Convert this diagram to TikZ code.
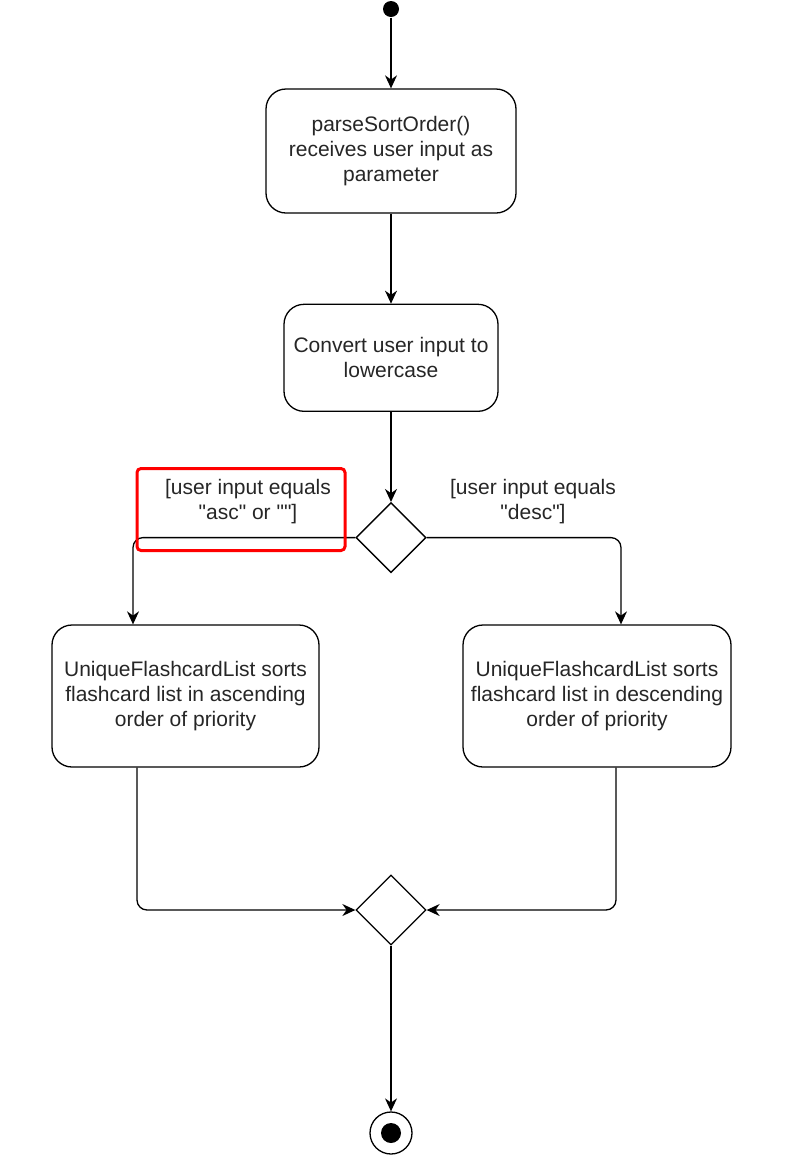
\documentclass[tikz,border=0pt]{standalone}
\usepackage{fontspec}
\setmainfont{Liberation Sans}
\usepackage{tikz}
\usetikzlibrary{arrows.meta, positioning, shapes.geometric}
\usepackage{xcolor}

\begin{document}
\begin{tikzpicture}[x=1pt,y=-1pt,line width=1.3pt,>={Stealth[length=13pt,width=12pt]},
    font=\fontsize{21}{25}\selectfont,text=black!85]
  \tikzstyle{action}=[draw,rounded corners=20pt,align=center,inner sep=0pt]
  \tikzstyle{branch}=[draw,diamond,minimum width=70pt,minimum height=70pt,inner sep=0pt]
  \tikzstyle{guard}=[align=center,inner sep=0pt]
  \tikzstyle{highlight}=[draw=red,line width=3pt,rounded corners=4pt,minimum width=208pt,minimum height=82pt]

  \useasboundingbox (0,0) rectangle (809,1171);

  \node[circle,fill,minimum size=16pt,inner sep=0pt] (start) at (391,9) {};
  \node[action,minimum width=250pt,minimum height=124pt] (parse) at (391,151)
    {parseSortOrder()\\receives user input as\\parameter};
  \node[action,minimum width=214pt,minimum height=107pt] (lower) [below=90pt of parse]
    {Convert user input to\\lowercase};
  \node[branch] (choice) [below=90pt of lower] {};
  \node[action,minimum width=267pt,minimum height=142pt] (asc) at (185.5,696)
    {UniqueFlashcardList sorts\\flashcard list in ascending\\order of priority};
  \node[action,minimum width=268pt,minimum height=142pt] (desc) at (597,696)
    {UniqueFlashcardList sorts\\flashcard list in descending\\order of priority};
  \node[branch] (merge) at (391,910) {};
  \node[circle,draw,minimum size=42pt,inner sep=0pt] (stop) at (391,1133) {};
  \node[circle,fill,minimum size=20pt,inner sep=0pt] (stopDot) at (stop) {};

  \node[guard] (ascGuard) at (248,502)
    {[user input equals\\\textquotedbl asc\textquotedbl{} or \textquotedbl\textquotedbl]};
  \node[guard] (descGuard) at (533,502)
    {[user input equals\\\textquotedbl desc\textquotedbl]};

  \path[->]
  (start) edge (parse)
  (parse) edge (lower)
  (lower) edge (choice)
  (merge) edge (stop)
  ;
  \draw[->,rounded corners=10pt] (choice.west) -| ([xshift=-52.5pt]asc.north);
  \draw[->,rounded corners=10pt] (choice.east) -| ([xshift=24pt]desc.north);
  \draw[->,rounded corners=10pt] ([xshift=-48.5pt]asc.south) |- (merge.west);
  \draw[->,rounded corners=10pt] ([xshift=19pt]desc.south) |- (merge.east);

  \node[highlight] (mark) at (241,509.5) {};
\end{tikzpicture}
\end{document}
